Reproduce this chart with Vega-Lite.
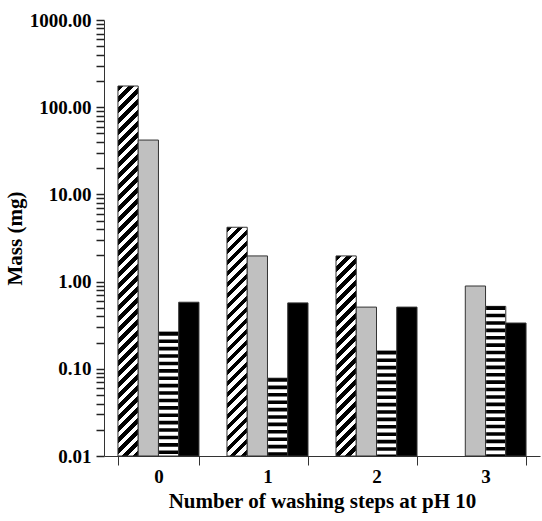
{
  "$schema": "https://vega.github.io/schema/vega-lite/v6.json",
  "width": 436,
  "height": 436,
  "autosize": {"type": "none"},
  "padding": {"left": 104, "top": 20, "right": 2, "bottom": 65},
  "background": "white",
  "config": {"view": {"stroke": null}},
  "data": {
    "values": [
      {"step": "0", "series": "A", "mass": 175},
      {"step": "0", "series": "B", "mass": 42},
      {"step": "0", "series": "C", "mass": 0.264},
      {"step": "0", "series": "D", "mass": 0.58},
      {"step": "1", "series": "A", "mass": 4.2},
      {"step": "1", "series": "B", "mass": 1.97},
      {"step": "1", "series": "C", "mass": 0.078},
      {"step": "1", "series": "D", "mass": 0.57},
      {"step": "2", "series": "A", "mass": 1.97},
      {"step": "2", "series": "B", "mass": 0.51},
      {"step": "2", "series": "C", "mass": 0.16},
      {"step": "2", "series": "D", "mass": 0.51},
      {"step": "3", "series": "B", "mass": 0.89},
      {"step": "3", "series": "C", "mass": 0.52},
      {"step": "3", "series": "D", "mass": 0.335}
    ]
  },
  "encoding": {
    "x": {
      "field": "step", "type": "nominal",
      "scale": {"domain": ["0", "1", "2", "3"], "paddingInner": 0.257, "paddingOuter": 0.128},
      "axis": {
        "title": "Number of washing steps at pH 10",
        "titleFont": "Liberation Serif", "titleFontSize": 21, "titleFontWeight": "bold", "titleColor": "black",
        "titlePadding": 4,
        "labelFont": "Liberation Serif", "labelFontSize": 19, "labelFontWeight": "bold", "labelColor": "black",
        "labelAngle": 0, "labelPadding": 2,
        "tickBand": "extent", "tickSize": 9, "tickColor": "#333", "domainColor": "#333"
      }
    },
    "xOffset": {"field": "series", "type": "nominal", "scale": {"domain": ["A", "B", "C", "D"], "paddingInner": 0, "paddingOuter": 0}},
    "y": {
      "field": "mass", "type": "quantitative",
      "scale": {"type": "log", "domain": [0.01, 1000], "nice": false},
      "axis": {
        "title": "Mass (mg)",
        "titleFont": "Liberation Serif", "titleFontSize": 21, "titleFontWeight": "bold", "titleColor": "black",
        "titlePadding": 4,
        "labelFont": "Liberation Serif", "labelFontSize": 19, "labelFontWeight": "bold", "labelColor": "black",
        "labelPadding": 5, "labelOverlap": false,
        "grid": false, "ticks": true,
        "values": [0.01,0.02,0.03,0.04,0.05,0.06,0.07,0.08,0.09,0.1,0.2,0.3,0.4,0.5,0.6,0.7,0.8,0.9,1,2,3,4,5,6,7,8,9,10,20,30,40,50,60,70,80,90,100,200,300,400,500,600,700,800,900,1000],
        "labelExpr": "indexof([0.01,0.1,1,10,100,1000], datum.value) >= 0 ? format(datum.value, '.2f') : ''",
        "tickSize": 8, "tickWidth": 1.5,
        "tickColor": "#222", "domainColor": "#333"
      }
    }
  },
  "layer": [
    {
      "mark": {"type": "bar", "stroke": "#333", "strokeWidth": 1},
      "encoding": {
        "y2": {"datum": 0.01},
        "fill": {
          "field": "series", "type": "nominal",
          "scale": {"domain": ["A", "B", "C", "D"], "range": ["white", "#c0c0c0", "white", "black"]},
          "legend": null,
          "condition": [
            {"test": "datum.series == 'A' && datum.step == '0'", "value": {"gradient": "linear", "x1": 0, "y1": 0, "x2": 0.06489, "y2": 1.18564, "stops": [
              {"offset":0,"color":"#000"},{"offset":0.012,"color":"#000"},{"offset":0.012,"color":"#fff"},{"offset":0.025,"color":"#fff"},
              {"offset":0.025,"color":"#000"},{"offset":0.037,"color":"#000"},{"offset":0.037,"color":"#fff"},{"offset":0.05,"color":"#fff"},
              {"offset":0.05,"color":"#000"},{"offset":0.062,"color":"#000"},{"offset":0.062,"color":"#fff"},{"offset":0.075,"color":"#fff"},
              {"offset":0.075,"color":"#000"},{"offset":0.087,"color":"#000"},{"offset":0.087,"color":"#fff"},{"offset":0.1,"color":"#fff"},
              {"offset":0.1,"color":"#000"},{"offset":0.112,"color":"#000"},{"offset":0.112,"color":"#fff"},{"offset":0.125,"color":"#fff"},
              {"offset":0.125,"color":"#000"},{"offset":0.137,"color":"#000"},{"offset":0.137,"color":"#fff"},{"offset":0.15,"color":"#fff"},
              {"offset":0.15,"color":"#000"},{"offset":0.162,"color":"#000"},{"offset":0.162,"color":"#fff"},{"offset":0.175,"color":"#fff"},
              {"offset":0.175,"color":"#000"},{"offset":0.187,"color":"#000"},{"offset":0.187,"color":"#fff"},{"offset":0.2,"color":"#fff"},
              {"offset":0.2,"color":"#000"},{"offset":0.212,"color":"#000"},{"offset":0.212,"color":"#fff"},{"offset":0.225,"color":"#fff"},
              {"offset":0.225,"color":"#000"},{"offset":0.237,"color":"#000"},{"offset":0.237,"color":"#fff"},{"offset":0.25,"color":"#fff"},
              {"offset":0.25,"color":"#000"},{"offset":0.262,"color":"#000"},{"offset":0.262,"color":"#fff"},{"offset":0.275,"color":"#fff"},
              {"offset":0.275,"color":"#000"},{"offset":0.287,"color":"#000"},{"offset":0.287,"color":"#fff"},{"offset":0.3,"color":"#fff"},
              {"offset":0.3,"color":"#000"},{"offset":0.312,"color":"#000"},{"offset":0.312,"color":"#fff"},{"offset":0.325,"color":"#fff"},
              {"offset":0.325,"color":"#000"},{"offset":0.337,"color":"#000"},{"offset":0.337,"color":"#fff"},{"offset":0.35,"color":"#fff"},
              {"offset":0.35,"color":"#000"},{"offset":0.362,"color":"#000"},{"offset":0.362,"color":"#fff"},{"offset":0.375,"color":"#fff"},
              {"offset":0.375,"color":"#000"},{"offset":0.387,"color":"#000"},{"offset":0.387,"color":"#fff"},{"offset":0.4,"color":"#fff"},
              {"offset":0.4,"color":"#000"},{"offset":0.412,"color":"#000"},{"offset":0.412,"color":"#fff"},{"offset":0.425,"color":"#fff"},
              {"offset":0.425,"color":"#000"},{"offset":0.437,"color":"#000"},{"offset":0.437,"color":"#fff"},{"offset":0.45,"color":"#fff"},
              {"offset":0.45,"color":"#000"},{"offset":0.462,"color":"#000"},{"offset":0.462,"color":"#fff"},{"offset":0.475,"color":"#fff"},
              {"offset":0.475,"color":"#000"},{"offset":0.487,"color":"#000"},{"offset":0.487,"color":"#fff"},{"offset":0.5,"color":"#fff"},
              {"offset":0.5,"color":"#000"},{"offset":0.512,"color":"#000"},{"offset":0.512,"color":"#fff"},{"offset":0.525,"color":"#fff"},
              {"offset":0.525,"color":"#000"},{"offset":0.537,"color":"#000"},{"offset":0.537,"color":"#fff"},{"offset":0.55,"color":"#fff"},
              {"offset":0.55,"color":"#000"},{"offset":0.562,"color":"#000"},{"offset":0.562,"color":"#fff"},{"offset":0.575,"color":"#fff"},
              {"offset":0.575,"color":"#000"},{"offset":0.587,"color":"#000"},{"offset":0.587,"color":"#fff"},{"offset":0.6,"color":"#fff"},
              {"offset":0.6,"color":"#000"},{"offset":0.612,"color":"#000"},{"offset":0.612,"color":"#fff"},{"offset":0.625,"color":"#fff"},
              {"offset":0.625,"color":"#000"},{"offset":0.637,"color":"#000"},{"offset":0.637,"color":"#fff"},{"offset":0.65,"color":"#fff"},
              {"offset":0.65,"color":"#000"},{"offset":0.662,"color":"#000"},{"offset":0.662,"color":"#fff"},{"offset":0.675,"color":"#fff"},
              {"offset":0.675,"color":"#000"},{"offset":0.687,"color":"#000"},{"offset":0.687,"color":"#fff"},{"offset":0.7,"color":"#fff"},
              {"offset":0.7,"color":"#000"},{"offset":0.712,"color":"#000"},{"offset":0.712,"color":"#fff"},{"offset":0.725,"color":"#fff"},
              {"offset":0.725,"color":"#000"},{"offset":0.737,"color":"#000"},{"offset":0.737,"color":"#fff"},{"offset":0.75,"color":"#fff"},
              {"offset":0.75,"color":"#000"},{"offset":0.762,"color":"#000"},{"offset":0.762,"color":"#fff"},{"offset":0.775,"color":"#fff"},
              {"offset":0.775,"color":"#000"},{"offset":0.787,"color":"#000"},{"offset":0.787,"color":"#fff"},{"offset":0.8,"color":"#fff"},
              {"offset":0.8,"color":"#000"},{"offset":0.812,"color":"#000"},{"offset":0.812,"color":"#fff"},{"offset":0.825,"color":"#fff"},
              {"offset":0.825,"color":"#000"},{"offset":0.837,"color":"#000"},{"offset":0.837,"color":"#fff"},{"offset":0.85,"color":"#fff"},
              {"offset":0.85,"color":"#000"},{"offset":0.862,"color":"#000"},{"offset":0.862,"color":"#fff"},{"offset":0.875,"color":"#fff"},
              {"offset":0.875,"color":"#000"},{"offset":0.887,"color":"#000"},{"offset":0.887,"color":"#fff"},{"offset":0.9,"color":"#fff"},
              {"offset":0.9,"color":"#000"},{"offset":0.912,"color":"#000"},{"offset":0.912,"color":"#fff"},{"offset":1,"color":"#fff"}
            ]}},
            {"test": "datum.series == 'A' && datum.step == '1'", "value": {"gradient": "linear", "x1": 0, "y1": 0, "x2": 0.16903, "y2": 1.90894, "stops": [
              {"offset":0,"color":"#000"},{"offset":0.012,"color":"#000"},{"offset":0.012,"color":"#fff"},{"offset":0.025,"color":"#fff"},
              {"offset":0.025,"color":"#000"},{"offset":0.037,"color":"#000"},{"offset":0.037,"color":"#fff"},{"offset":0.05,"color":"#fff"},
              {"offset":0.05,"color":"#000"},{"offset":0.062,"color":"#000"},{"offset":0.062,"color":"#fff"},{"offset":0.075,"color":"#fff"},
              {"offset":0.075,"color":"#000"},{"offset":0.087,"color":"#000"},{"offset":0.087,"color":"#fff"},{"offset":0.1,"color":"#fff"},
              {"offset":0.1,"color":"#000"},{"offset":0.112,"color":"#000"},{"offset":0.112,"color":"#fff"},{"offset":0.125,"color":"#fff"},
              {"offset":0.125,"color":"#000"},{"offset":0.137,"color":"#000"},{"offset":0.137,"color":"#fff"},{"offset":0.15,"color":"#fff"},
              {"offset":0.15,"color":"#000"},{"offset":0.162,"color":"#000"},{"offset":0.162,"color":"#fff"},{"offset":0.175,"color":"#fff"},
              {"offset":0.175,"color":"#000"},{"offset":0.187,"color":"#000"},{"offset":0.187,"color":"#fff"},{"offset":0.2,"color":"#fff"},
              {"offset":0.2,"color":"#000"},{"offset":0.212,"color":"#000"},{"offset":0.212,"color":"#fff"},{"offset":0.225,"color":"#fff"},
              {"offset":0.225,"color":"#000"},{"offset":0.237,"color":"#000"},{"offset":0.237,"color":"#fff"},{"offset":0.25,"color":"#fff"},
              {"offset":0.25,"color":"#000"},{"offset":0.262,"color":"#000"},{"offset":0.262,"color":"#fff"},{"offset":0.275,"color":"#fff"},
              {"offset":0.275,"color":"#000"},{"offset":0.287,"color":"#000"},{"offset":0.287,"color":"#fff"},{"offset":0.3,"color":"#fff"},
              {"offset":0.3,"color":"#000"},{"offset":0.312,"color":"#000"},{"offset":0.312,"color":"#fff"},{"offset":0.325,"color":"#fff"},
              {"offset":0.325,"color":"#000"},{"offset":0.337,"color":"#000"},{"offset":0.337,"color":"#fff"},{"offset":0.35,"color":"#fff"},
              {"offset":0.35,"color":"#000"},{"offset":0.362,"color":"#000"},{"offset":0.362,"color":"#fff"},{"offset":0.375,"color":"#fff"},
              {"offset":0.375,"color":"#000"},{"offset":0.387,"color":"#000"},{"offset":0.387,"color":"#fff"},{"offset":0.4,"color":"#fff"},
              {"offset":0.4,"color":"#000"},{"offset":0.412,"color":"#000"},{"offset":0.412,"color":"#fff"},{"offset":0.425,"color":"#fff"},
              {"offset":0.425,"color":"#000"},{"offset":0.437,"color":"#000"},{"offset":0.437,"color":"#fff"},{"offset":0.45,"color":"#fff"},
              {"offset":0.45,"color":"#000"},{"offset":0.462,"color":"#000"},{"offset":0.462,"color":"#fff"},{"offset":0.475,"color":"#fff"},
              {"offset":0.475,"color":"#000"},{"offset":0.487,"color":"#000"},{"offset":0.487,"color":"#fff"},{"offset":0.5,"color":"#fff"},
              {"offset":0.5,"color":"#000"},{"offset":0.512,"color":"#000"},{"offset":0.512,"color":"#fff"},{"offset":0.525,"color":"#fff"},
              {"offset":0.525,"color":"#000"},{"offset":0.537,"color":"#000"},{"offset":0.537,"color":"#fff"},{"offset":0.55,"color":"#fff"},
              {"offset":0.55,"color":"#000"},{"offset":0.562,"color":"#000"},{"offset":0.562,"color":"#fff"},{"offset":0.575,"color":"#fff"},
              {"offset":0.575,"color":"#000"},{"offset":0.587,"color":"#000"},{"offset":0.587,"color":"#fff"},{"offset":1,"color":"#fff"}
            ]}},
            {"test": "datum.series == 'A' && datum.step == '2'", "value": {"gradient": "linear", "x1": 0, "y1": 0, "x2": 0.22027, "y2": 2.17661, "stops": [
              {"offset":0,"color":"#000"},{"offset":0.012,"color":"#000"},{"offset":0.012,"color":"#fff"},{"offset":0.025,"color":"#fff"},
              {"offset":0.025,"color":"#000"},{"offset":0.037,"color":"#000"},{"offset":0.037,"color":"#fff"},{"offset":0.05,"color":"#fff"},
              {"offset":0.05,"color":"#000"},{"offset":0.062,"color":"#000"},{"offset":0.062,"color":"#fff"},{"offset":0.075,"color":"#fff"},
              {"offset":0.075,"color":"#000"},{"offset":0.087,"color":"#000"},{"offset":0.087,"color":"#fff"},{"offset":0.1,"color":"#fff"},
              {"offset":0.1,"color":"#000"},{"offset":0.112,"color":"#000"},{"offset":0.112,"color":"#fff"},{"offset":0.125,"color":"#fff"},
              {"offset":0.125,"color":"#000"},{"offset":0.137,"color":"#000"},{"offset":0.137,"color":"#fff"},{"offset":0.15,"color":"#fff"},
              {"offset":0.15,"color":"#000"},{"offset":0.162,"color":"#000"},{"offset":0.162,"color":"#fff"},{"offset":0.175,"color":"#fff"},
              {"offset":0.175,"color":"#000"},{"offset":0.187,"color":"#000"},{"offset":0.187,"color":"#fff"},{"offset":0.2,"color":"#fff"},
              {"offset":0.2,"color":"#000"},{"offset":0.212,"color":"#000"},{"offset":0.212,"color":"#fff"},{"offset":0.225,"color":"#fff"},
              {"offset":0.225,"color":"#000"},{"offset":0.237,"color":"#000"},{"offset":0.237,"color":"#fff"},{"offset":0.25,"color":"#fff"},
              {"offset":0.25,"color":"#000"},{"offset":0.262,"color":"#000"},{"offset":0.262,"color":"#fff"},{"offset":0.275,"color":"#fff"},
              {"offset":0.275,"color":"#000"},{"offset":0.287,"color":"#000"},{"offset":0.287,"color":"#fff"},{"offset":0.3,"color":"#fff"},
              {"offset":0.3,"color":"#000"},{"offset":0.312,"color":"#000"},{"offset":0.312,"color":"#fff"},{"offset":0.325,"color":"#fff"},
              {"offset":0.325,"color":"#000"},{"offset":0.337,"color":"#000"},{"offset":0.337,"color":"#fff"},{"offset":0.35,"color":"#fff"},
              {"offset":0.35,"color":"#000"},{"offset":0.362,"color":"#000"},{"offset":0.362,"color":"#fff"},{"offset":0.375,"color":"#fff"},
              {"offset":0.375,"color":"#000"},{"offset":0.387,"color":"#000"},{"offset":0.387,"color":"#fff"},{"offset":0.4,"color":"#fff"},
              {"offset":0.4,"color":"#000"},{"offset":0.412,"color":"#000"},{"offset":0.412,"color":"#fff"},{"offset":0.425,"color":"#fff"},
              {"offset":0.425,"color":"#000"},{"offset":0.437,"color":"#000"},{"offset":0.437,"color":"#fff"},{"offset":0.45,"color":"#fff"},
              {"offset":0.45,"color":"#000"},{"offset":0.462,"color":"#000"},{"offset":0.462,"color":"#fff"},{"offset":0.475,"color":"#fff"},
              {"offset":0.475,"color":"#000"},{"offset":0.487,"color":"#000"},{"offset":0.487,"color":"#fff"},{"offset":0.5,"color":"#fff"},
              {"offset":0.5,"color":"#000"},{"offset":0.512,"color":"#000"},{"offset":0.512,"color":"#fff"},{"offset":1,"color":"#fff"}
            ]}}
          ]
        }
      }
    },
    {
      "transform": [{"filter": "datum.series == 'C'"}],
      "mark": {"type": "rule", "color": "black", "strokeWidth": 19, "strokeDash": [3.6, 3.8], "strokeCap": "butt"},
      "encoding": {
        "y2": {"datum": 0.01}
      }
    }
  ]
}
